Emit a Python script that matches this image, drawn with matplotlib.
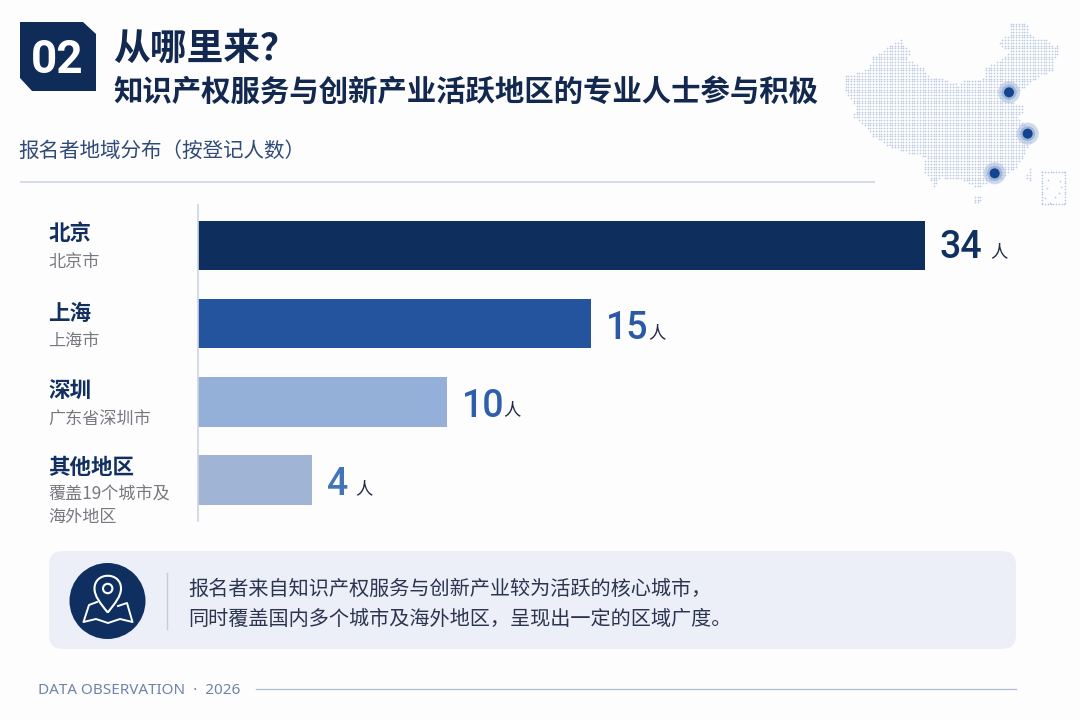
import numpy as np
import matplotlib
matplotlib.use("Agg")
import matplotlib.pyplot as plt
from matplotlib.patches import Polygon, Circle, FancyBboxPatch, PathPatch
from matplotlib.path import Path

plt.rcParams['font.family'] = ['Noto Sans CJK SC', 'DejaVu Sans']

# Data
regions = ['北京', '上海', '深圳', '其他地区']
region_notes = [['北京市'], ['上海市'], ['广东省深圳市'], ['覆盖19个城市及', '海外地区']]
counts = [34, 15, 10, 4]
# The reference's bars are not proportional to its labels; drawn lengths
bar_lengths = [34, 18.4, 11.65, 5.33]
bar_colors = ['#0e2e5e', '#24549d', '#94afd8', '#a0b4d6']
count_colors = ['#10305f', '#2a59a6', '#2f5fab', '#4474b8']
title_main = '从哪里来？'
title_sub = '知识产权服务与创新产业活跃地区的专业人士参与积极'
chart_heading = '报名者地域分布（按登记人数）'
note_lines = ['报名者来自知识产权服务与创新产业较为活跃的核心城市，',
              '同时覆盖国内多个城市及海外地区，呈现出一定的区域广度。']
footer = 'DATA OBSERVATION  ·  2026'

fig = plt.figure(figsize=(10.8, 7.2), dpi=100, facecolor='#fdfdfe')
bg = fig.add_axes([0, 0, 1, 1])
bg.set_xlim(0, 1080)
bg.set_ylim(720, 0)
bg.axis('off')


def t(x, y, s, size, color, weight='normal', ha='left', **kw):
    return bg.text(x - 1.5, y + 2, s, fontsize=size, color=color, fontweight=weight,
                   ha=ha, va='center', **kw)


# Badge and headings
bg.add_patch(Polygon([(20, 22), (83, 22), (96, 34), (96, 91), (32, 91), (20, 78)],
                     closed=True, fc='#0f2b58', ec='none'))
bg.text(57.5, 60, '02', fontsize=33, color='white', fontweight='bold', ha='center',
        va='center', family=['Roboto', 'DejaVu Sans'])
t(115, 47, title_main, 26.5, '#12284f', 'bold')
t(115, 91, title_sub, 21.2, '#12284f', 'bold')
t(20, 149, chart_heading, 14.8, '#2f4a76')
bg.plot([20, 875], [182, 182], color='#cdd5e5', lw=1.2, solid_capstyle='butt')

# Dotted map (decorative, outline)
outline_zoom = [(40,195),(75,190),(115,175),(130,135),(155,125),(185,100),(210,88),(238,120),
                (235,150),(280,170),(290,195),(340,205),(385,225),(405,210),(460,205),(465,170),
                (510,150),(540,120),(520,120),(505,95),(535,75),(535,35),(585,35),(605,80),
                (650,90),(670,110),(688,95),(685,130),(665,150),(670,185),(630,195),(590,225),
                (565,245),(555,255),(530,270),(585,290),(565,320),(595,350),(605,385),(590,420),
                (560,470),(510,510),(465,520),(440,535),(400,510),(360,510),(335,500),(310,530),
                (285,485),(280,470),(290,440),(240,430),(180,410),(130,380),(100,345),(70,320),
                (75,290),(45,240)]
hainan_zoom = [(432,560),(450,555),(458,568),(445,582),(432,578)]
taiwan_zoom = [(597,470),(606,475),(603,515),(593,518),(588,495)]


def to_px(points):
    a = np.array(points, float)
    return np.column_stack([830 + a[:, 0] / 3, 10 + a[:, 1] / 3])


gx, gy = np.meshgrid(np.arange(840, 1066, 2.75), np.arange(18, 210, 2.75))
grid = np.column_stack([gx.ravel(), gy.ravel()])
mask = np.zeros(len(grid), bool)
for shape in (outline_zoom, hainan_zoom, taiwan_zoom):
    mask |= Path(to_px(shape)).contains_points(grid)
bg.scatter(grid[mask, 0], grid[mask, 1], s=1.5, color='#bcc8e0', linewidths=0, zorder=2)

box = to_px([(637, 487), (705, 583)])
bx = np.arange(box[0, 0], box[1, 0] + .1, 2.75)
by = np.arange(box[0, 1], box[1, 1] + .1, 2.75)
bg.scatter(np.r_[bx, bx, np.full_like(by, box[0, 0]), np.full_like(by, box[1, 0])],
           np.r_[np.full_like(bx, box[0, 1]), np.full_like(bx, box[1, 1]), by, by],
           s=1.5, color='#bcc8e0', linewidths=0, zorder=2)
isl = to_px([(655,510),(690,512),(652,535),(692,530),(645,565),(675,560),(660,578),(688,548)])
bg.scatter(isl[:, 0], isl[:, 1], s=1.5, color='#bcc8e0', linewidths=0, zorder=2)

for (cx, cy) in to_px([(537, 247), (593, 371), (494, 490)]):
    bg.add_patch(Circle((cx, cy), 11, fc='#a9bcdc', ec='none', alpha=.55, zorder=3))
    bg.add_patch(Circle((cx, cy), 7.5, fc='#8ea8d2', ec='none', alpha=.7, zorder=3))
    bg.add_patch(Circle((cx, cy), 5, fc='#14448f', ec='none', zorder=4))

# Bars
W, H = 1080, 720
left, right, top, bottom = 198, 1016, 205, 521
ax = fig.add_axes([left / W, 1 - bottom / H, (right - left) / W, (bottom - top) / H])
ax.patch.set_alpha(0)
ax.set_xlim(0, (right - left) / 21.38)
ax.set_ylim(3.523, -0.518)
ypos = np.arange(len(regions))
ax.barh(ypos, bar_lengths, height=0.63, color=bar_colors, linewidth=0)
for side in ('top', 'right', 'bottom'):
    ax.spines[side].set_visible(False)
ax.spines['left'].set_color('#cdd4e3')
ax.spines['left'].set_linewidth(1.2)
ax.set_xticks([])
ax.set_yticks([])

fig.canvas.draw()
renderer = fig.canvas.get_renderer()
unit_gap = [5.5, -0.5, -0.5, 5.5]
label_dy = [-1.5, -3.5, -3, -3.5]
for y, length, n, c, gap, dy in zip(ypos, bar_lengths, counts, count_colors, unit_gap, label_dy):
    lab = ax.annotate(str(n), (length, y), xytext=(10.5, dy), textcoords='offset points',
                      fontsize=27, color=c, fontweight='medium', va='center', ha='left',
                      family=['Roboto', 'DejaVu Sans'])
    ext = lab.get_window_extent(renderer)
    xd = ax.transData.inverted().transform((ext.x1, 0))[0]
    ax.annotate('人', (xd, y), xytext=(gap, dy - 3), textcoords='offset points',
                fontsize=12.5, color='#1f2a44', va='center', ha='left')

# Category labels
name_y = [232, 311, 389, 466]
note_y = [[260], [339], [417], [493, 515]]
for name, ny, notes, nys in zip(regions, name_y, region_notes, note_y):
    t(50, ny, name, 15.5, '#12305f', 'bold')
    for s, yy in zip(notes, nys):
        t(50, yy, s, 12.3, '#77797f')

# Callout
bg.add_patch(FancyBboxPatch((63, 565), 939, 70, boxstyle='round,pad=14,rounding_size=14',
                            fc='#eceff8', ec='none', lw=0))
bg.add_patch(Circle((107.5, 601), 38, fc='#0e2f60', ec='none'))
pin = Path([(107.7, 612.5), (100, 603), (94.5, 596), (94.5, 588.5),
            (94.5, 571.5), (121, 571.5), (121, 588.5),
            (121, 596), (115.4, 603), (107.7, 612.5)],
           [Path.MOVETO] + [Path.CURVE4] * 9)
bg.add_patch(PathPatch(pin, fc='none', ec='white', lw=1.5))
bg.add_patch(Circle((107.7, 588.5), 4.7, fc='none', ec='white', lw=1.5))
bg.plot([97, 89, 83.5, 96, 108, 120, 132.5, 127, 118],
        [602, 605, 622, 619, 623, 619, 622, 603, 606],
        color='white', lw=1.4, solid_joinstyle='round')
bg.plot([167, 167], [573, 629], color='#c4cbd9', lw=1)
t(190, 587, note_lines[0], 14.5, '#2c3550')
t(190, 617, note_lines[1], 14.5, '#2c3550')

# Footer
bg.text(38, 690, footer, fontsize=11, color='#6f83a8', va='center',
        family=['Noto Sans', 'DejaVu Sans'])
bg.plot([256, 1016], [689, 689], color='#b6c0d4', lw=1)

fig.savefig('out.png', dpi=100, facecolor=fig.get_facecolor())
